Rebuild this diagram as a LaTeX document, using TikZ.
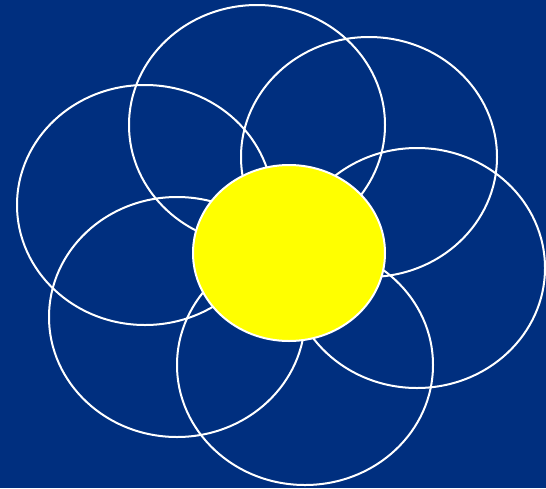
\documentclass[tikz,border=0pt]{standalone}
\usetikzlibrary{shapes.geometric}

\definecolor{nightblue}{RGB}{0,47,127}
\definecolor{sunyellow}{RGB}{255,255,0}

\begin{document}
\begin{tikzpicture}[
    x=1pt, y=-1pt,
    petal/.style={ellipse, draw=white, line width=2pt, minimum width=256pt, minimum height=240pt, inner sep=0pt},
    heart/.style={ellipse, draw=white, fill=sunyellow, line width=2pt, minimum width=192pt, minimum height=176pt, inner sep=0pt}
]

    % --- fond ---
    \fill[nightblue] (0,0) rectangle (546,488);
    \useasboundingbox (0,0) rectangle (546,488);

    % --- petales ---
    \node[petal] (petaltop)    at (257,125) {};
    \node[petal] (petalne)     at (369,157) {};
    \node[petal] (petalright)  at (417,268) {};
    \node[petal] (petalbottom) at (305,365) {};
    \node[petal] (petalsw)     at (177,317) {};
    \node[petal] (petalleft)   at (145,205) {};

    % --- coeur ---
    \node[heart] (centre) at (289,253) {};

\end{tikzpicture}
\end{document}
